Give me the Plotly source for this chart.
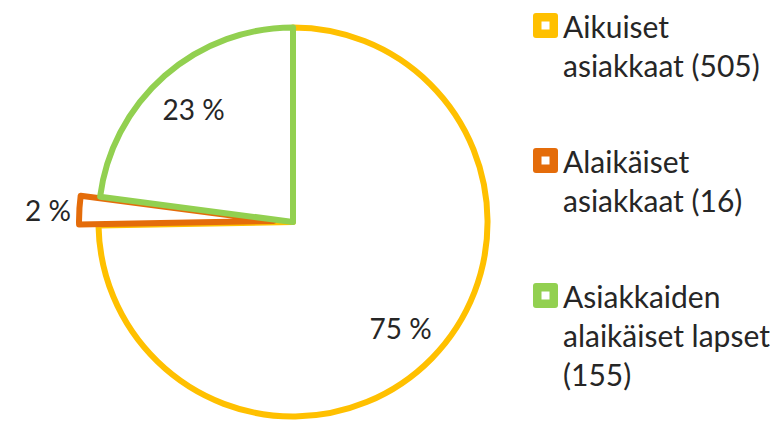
import plotly.graph_objects as go

# ---- data ----
categories = ["Aikuiset asiakkaat", "Alaikäiset asiakkaat", "Asiakkaiden alaikäiset lapset"]
legend_labels = ["Aikuiset<br>asiakkaat (505)",
                 "Alaikäiset<br>asiakkaat (16)",
                 "Asiakkaiden<br>alaikäiset lapset<br>(155)"]
values = [505, 16, 155]
colors = ["#FFC000", "#E46C0A", "#92D050"]

total = sum(values)
pct_text = [f"{round(v / total * 100)} %" for v in values]

W, H = 778, 428
FONT = "Lato"
TXT = "#262626"

cx = 285
half = H / 2
domain = dict(x=[(cx - half) / W, (cx + half) / W], y=[0, 1])
pull = [0, 0.1, 0]

# outlined slices
fig = go.Figure(go.Pie(
    labels=categories,
    values=values,
    textinfo="none",
    sort=False,
    direction="clockwise",
    rotation=0,
    pull=pull,
    marker=dict(colors=["white"] * 3, line=dict(color=colors, width=6)),
    domain=domain,
    showlegend=False,
    hoverinfo="label+value+percent",
))

# percentage labels (transparent ring so inside labels sit towards the rim)
fig.add_trace(go.Pie(
    labels=categories,
    values=values,
    text=pct_text,
    textinfo="text",
    sort=False,
    direction="clockwise",
    rotation=0,
    pull=pull,
    hole=0.55,
    marker=dict(colors=["rgba(0,0,0,0)"] * 3, line=dict(width=0)),
    textposition=["inside", "outside", "inside"],
    insidetextorientation="horizontal",
    textfont=dict(family=FONT, size=28, color=TXT),
    outsidetextfont=dict(family=FONT, size=28, color=TXT),
    domain=domain,
    showlegend=False,
    hoverinfo="skip",
))

# ---- custom legend (layout) ----
shapes = []
annotations = []
icon_x0, icon_size, inner = 525, 25, 8
text_x = 553
fx = lambda px: px / W
fy = lambda py: 1 - py / H
for i, (lab, col) in enumerate(zip(legend_labels, colors)):
    top = 5 + i * 135
    r = 3
    L, R, T, B = icon_x0, icon_x0 + icon_size, top, top + icon_size
    path = (f"M{fx(L + r)},{fy(T)} L{fx(R - r)},{fy(T)} Q{fx(R)},{fy(T)} {fx(R)},{fy(T + r)} "
            f"L{fx(R)},{fy(B - r)} Q{fx(R)},{fy(B)} {fx(R - r)},{fy(B)} "
            f"L{fx(L + r)},{fy(B)} Q{fx(L)},{fy(B)} {fx(L)},{fy(B - r)} "
            f"L{fx(L)},{fy(T + r)} Q{fx(L)},{fy(T)} {fx(L + r)},{fy(T)} Z")
    shapes.append(dict(type="path", xref="paper", yref="paper", path=path,
                       fillcolor=col, line=dict(width=0)))
    c = icon_x0 + icon_size / 2
    ct = top + icon_size / 2
    shapes.append(dict(type="rect", xref="paper", yref="paper",
                       x0=fx(c - inner / 2), x1=fx(c + inner / 2),
                       y0=fy(ct + inner / 2), y1=fy(ct - inner / 2),
                       fillcolor="white", line=dict(width=0)))
    annotations.append(dict(text=lab, xref="paper", yref="paper",
                            x=fx(text_x), y=fy(top - 7),
                            xanchor="left", yanchor="top", align="left",
                            showarrow=False,
                            font=dict(family=FONT, size=30, color=TXT)))

fig.update_layout(
    width=W, height=H,
    margin=dict(l=0, r=0, t=0, b=0, autoexpand=False),
    paper_bgcolor="white",
    plot_bgcolor="white",
    showlegend=False,
    shapes=shapes,
    annotations=annotations,
)

fig.write_html("out.html")
